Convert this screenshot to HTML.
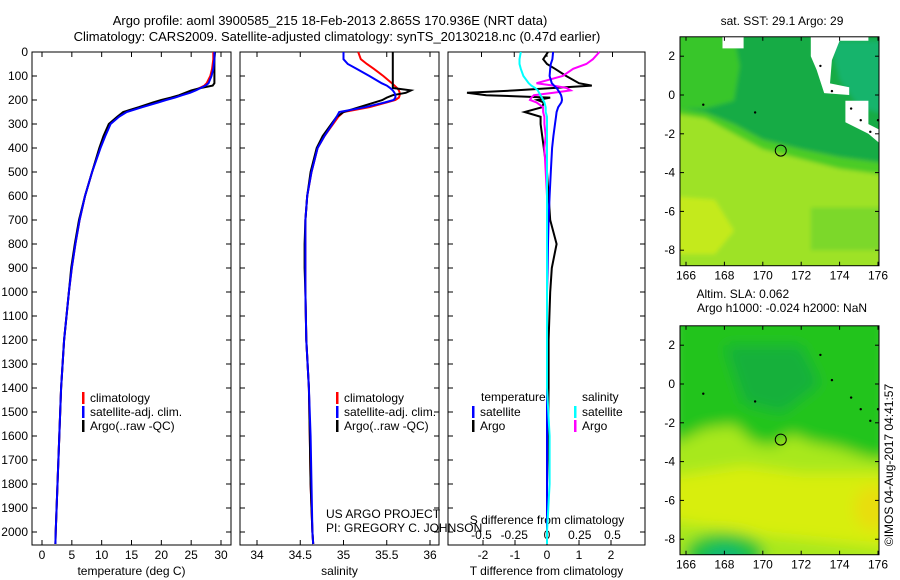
<!DOCTYPE html>
<html><head><meta charset="utf-8"><style>
body{margin:0;background:#fff}
svg{display:block;font-family:"Liberation Sans",sans-serif}
text{font-size:12px;fill:#000}
</style></head><body>
<svg id="fig" width="900" height="580" viewBox="0 0 900 580" xmlns="http://www.w3.org/2000/svg">
<defs>
<filter id="blur" x="0" y="0" width="1" height="1"><feGaussianBlur stdDeviation="7"/></filter>
<filter id="blur1" x="0" y="0" width="1" height="1"><feGaussianBlur stdDeviation="2"/></filter>
<clipPath id="c1"><rect x="680" y="37" width="199" height="229"/></clipPath>
<clipPath id="c2"><rect x="680" y="326" width="199" height="229"/></clipPath>
</defs>
<text x="330" y="25" text-anchor="middle" style="font-size:13px">Argo profile: aoml 3900585_215 18-Feb-2013 2.865S 170.936E (NRT data)</text>
<text x="337" y="41" text-anchor="middle" style="font-size:13px">Climatology: CARS2009. Satellite-adjusted climatology: synTS_20130218.nc (0.47d earlier)</text>
<g id="plots"></g>
<g id="maps"></g>
<text transform="translate(893,465) rotate(-90)" text-anchor="middle">©IMOS 04-Aug-2017 04:41:57</text>
</svg>
<script>
const NS="http://www.w3.org/2000/svg";
// depth levels (m)
const depths=[0,30,50,70,100,130,140,150,160,170,180,190,200,210,230,250,270,300,350,400,500,600,700,800,900,1000,1200,1400,1600,1800,2000,2050];
const tempClim=[28.7,28.7,28.6,28.5,28.2,27.6,27.2,26.4,25.6,24.5,23.2,22,20.5,19.2,16.5,14,12.8,11.4,10.5,9.7,8.4,7.2,6.3,5.6,5.0,4.5,3.7,3.2,2.9,2.6,2.3,2.25];
const tempSat=[28.9,28.9,28.8,28.7,28.4,27.9,27.4,26.6,25.8,24.8,23.5,22.3,20.8,19.5,16.8,14.2,12.9,11.5,10.6,9.8,8.4,7.2,6.3,5.6,5.0,4.5,3.7,3.2,2.9,2.6,2.3,2.25];
const tempArgo=[29.0,28.9,28.9,28.9,28.9,28.9,28.6,26.6,25,24,23,21.6,20,18.6,16.2,13.6,12.6,11.2,10.3,9.6,8.4,7.2,6.2,5.5,4.9,4.5,3.7,3.2,2.9,2.6,2.3,2.25];
const salClim=[35.17,35.2,35.27,35.35,35.46,35.56,35.59,35.62,35.64,35.65,35.65,35.64,35.6,35.5,35.3,35.0,34.94,34.88,34.78,34.7,34.63,34.58,34.56,34.56,34.56,34.56,34.57,34.6,34.61,34.62,34.64,34.65];
const salSat=[35.0,35.0,35.05,35.15,35.3,35.44,35.5,35.54,35.57,35.59,35.6,35.6,35.58,35.48,35.25,34.95,34.92,34.87,34.78,34.7,34.63,34.58,34.56,34.56,34.56,34.56,34.57,34.6,34.62,34.63,34.64,34.65];
const salArgo=[35.57,35.57,35.57,35.57,35.57,35.57,35.57,35.57,35.78,35.72,35.57,35.5,35.45,35.36,35.18,35.0,34.92,34.86,34.76,34.69,34.62,34.58,34.56,34.55,34.55,34.56,34.57,34.6,34.61,34.62,34.64,34.65];
const dTSat=[0.19,0.17,0.12,0.1,0.08,0.15,0.22,0.3,0.35,0.4,0.44,0.46,0.47,0.45,0.35,0.3,0.28,0.25,0.2,0.16,0.12,0.08,0.05,0.03,0.02,0.0,0.0,0.0,0.0,0.0,0.0,0.0];
const dTArgo=[0.03,-0.12,0.0,0.25,0.6,1.0,1.4,0.2,-1.0,-2.5,-1.9,0.1,-0.3,-0.1,-0.15,-0.7,-0.2,-0.2,-0.15,-0.1,0.0,0.05,0.1,0.3,0.15,0.1,0.05,0.05,0.03,0.0,0.0,0.0];
const dSSat=[-0.2,-0.21,-0.21,-0.2,-0.18,-0.14,-0.12,-0.09,-0.07,-0.06,-0.05,-0.04,-0.03,-0.02,-0.01,-0.01,0.0,0.0,0.0,0.0,0.0,0.0,0.0,0.0,0.0,0.0,0.0,0.0,0.02,0.02,0.0,0.0];
const dSArgo=[0.4,0.35,0.3,0.2,0.12,-0.08,0.05,0.15,0.18,0.05,-0.1,-0.12,-0.13,-0.08,-0.03,-0.03,-0.02,-0.02,-0.01,-0.02,-0.01,0.0,0.0,0.0,0.0,0.0,0.0,0.0,0.0,0.0,0.0,0.0];
const depthTicks=[0,100,200,300,400,500,600,700,800,900,1000,1100,1200,1300,1400,1500,1600,1700,1800,1900,2000];
const tempTicks=[0,5,10,15,20,25,30];
const salTicks=[34,34.5,35,35.5,36];
const salTickLabels=["34","34.5","35","35.5","36"];
const dTTicks=[-2,-1,0,1,2];
const dSTicks=[-0.5,-0.25,0,0.25,0.5];
const dSTickLabels=["-0.5","-0.25","0","0.25","0.5"];
const lonTicks=[166,168,170,172,174,176];
const latTicks=[2,0,-2,-4,-6,-8];

const yD=d=>52+d*0.24;
const xT=v=>42+v*5.967;
const xS=v=>257+(v-34)*86.5;
const xDT=v=>547+v*32;
const xDS=v=>547+v*131;

function el(tag,attrs,parent){const e=document.createElementNS(NS,tag);for(const k in attrs)e.setAttribute(k,attrs[k]);parent.appendChild(e);return e;}
const plots=document.getElementById('plots');

function panel(name,x0,x1,xlabel){
  const g=el('g',{},plots);
  
  
  const r=el('rect',{x:x0,y:52,width:x1-x0,height:493,fill:'none',stroke:'#000','stroke-width':1},g);
  
  
  depthTicks.forEach(d=>{
    el('line',{x1:x0,x2:x0+5,y1:yD(d),y2:yD(d),stroke:'#000'},g);
    el('line',{x1:x1,x2:x1-5,y1:yD(d),y2:yD(d),stroke:'#000'},g);
  });
  const t=el('text',{x:(x0+x1)/2,y:575,'text-anchor':'middle'},g);
  t.textContent=xlabel;
  
  
  return g;
}
function xticks(g,ticks,labels,fx,ly,top,bottom){
  ticks.forEach((v,i)=>{
    const x=fx(v);
    if(bottom) el('line',{x1:x,x2:x,y1:545,y2:540,stroke:'#000'},g);
    if(top) el('line',{x1:x,x2:x,y1:52,y2:57,stroke:'#000'},g);
    const t=el('text',{x:x,y:ly,'text-anchor':'middle'},g);
    t.textContent=labels[i];
    
    
  });
}
function line(g,xs,fx,color,name,w){
  const pts=depths.map((d,i)=>fx(xs[i]).toFixed(1)+','+yD(d).toFixed(1)).join(' ');
  const p=el('polyline',{points:pts,fill:'none',stroke:color,'stroke-width':w||2},g);
  
  
}
function legend(g,x,y,color,label){
  el('rect',{x:x,y:y-10,width:2.5,height:12,fill:color},g);
  const t=el('text',{x:x+8,y:y},g);
  t.textContent=label;
  
  
}

depthTicks.forEach(d=>{
  const t=el('text',{x:28,y:yD(d)+4,'text-anchor':'end'},plots);
  t.textContent=d;
  
  
});

const g1=panel('temperature-panel',32,231,'temperature (deg C)');
xticks(g1,tempTicks,tempTicks.map(String),xT,559,true,true);
line(g1,tempClim,xT,'#f00','temp-climatology-line');
line(g1,tempArgo,xT,'#000','temp-argo-line');
line(g1,tempSat,xT,'#00f','temp-satellite-line');
legend(g1,82,402,'#f00','climatology');
legend(g1,82,416,'#00f','satellite-adj. clim.');
legend(g1,82,430,'#000','Argo(..raw -QC)');

const g2=panel('salinity-panel',240,439,'salinity');
xticks(g2,salTicks,salTickLabels,xS,559,true,true);
line(g2,salClim,xS,'#f00','sal-climatology-line');
line(g2,salArgo,xS,'#000','sal-argo-line');
line(g2,salSat,xS,'#00f','sal-satellite-line');
legend(g2,336,402,'#f00','climatology');
legend(g2,336,416,'#00f','satellite-adj. clim.');
legend(g2,336,430,'#000','Argo(..raw -QC)');
const c1=el('text',{x:326,y:518},g2);c1.textContent='US ARGO PROJECT';


const c2=el('text',{x:326,y:532},g2);c2.textContent='PI: GREGORY C. JOHNSON';



const g3=panel('difference-panel',448,645,'T difference from climatology');
xticks(g3,dTTicks,dTTicks.map(String),xDT,559,false,true);
xticks(g3,dSTicks,dSTickLabels,xDS,539,true,false);
const st=el('text',{x:547,y:524,'text-anchor':'middle'},g3);st.textContent='S difference from climatology';


line(g3,dTArgo,xDT,'#000','t-diff-argo-line');
line(g3,dSArgo,xDS,'#f0f','s-diff-argo-line');
line(g3,dTSat,xDT,'#00f','t-diff-satellite-line');
line(g3,dSSat,xDS,'#0ff','s-diff-satellite-line');
const lt=el('text',{x:481,y:401},g3);lt.textContent='temperature';


const ls=el('text',{x:582,y:401},g3);ls.textContent='salinity';


legend(g3,472,416,'#00f','satellite');
legend(g3,472,430,'#000','Argo');
legend(g3,574,416,'#0ff','satellite');
legend(g3,574,430,'#f0f','Argo');

// maps
const maps=document.getElementById('maps');
const mx=lon=>686+(lon-166)*19.2;
function mapPanel(name,lat0y,clip,blurred,title1,title2){
  const g=el('g',{},maps);
  
  
  const my=lat=>lat0y-lat*19.4;
  const P=pts=>pts.map(p=>mx(p[0]).toFixed(1)+','+my(p[1]).toFixed(1)).join(' ');
  const inner=el('g',{'clip-path':'url(#'+clip+')'},g);
  const fg=el('g',blurred?{filter:'url(#blur)'}:{filter:'url(#blur1)'},inner);
  if(!blurred){
    el('rect',{x:670,y:my(4),width:220,height:260,fill:'#17ab45'},fg);
    el('polygon',{points:P([[165,4],[168.3,4],[168.8,1.5],[168.5,-0.3],[167,-0.7],[165,-0.7]]),fill:'#38c62a'},fg);
    el('polygon',{points:P([[173.5,2.8],[177,2.8],[177,-1.2],[175,-0.6],[174,0.8]]),fill:'#12b46c'},fg);
    el('polygon',{points:P([[165,-0.6],[167,-0.9],[168.5,-1.5],[170,-2.3],[172,-2.8],[174,-3.2],[177,-3.6],[177,-9],[165,-9]]),fill:'#4ccc26'},fg);
    el('polygon',{points:P([[165,-0.9],[167,-1.2],[168.5,-2],[170,-2.8],[172,-3.3],[174,-3.8],[177,-4.2],[177,-9],[165,-9]]),fill:'#9ee228'},fg);
    el('polygon',{points:P([[165,-5.2],[167.5,-5.4],[168.5,-7],[167.5,-8.2],[165,-8.2]]),fill:'#c4ea1c'},fg);
    el('polygon',{points:P([[172.5,-5.8],[176.5,-5.8],[176.5,-8],[172.5,-8]]),fill:'#7cd82a'},fg);
  } else {
    el('rect',{x:670,y:my(4),width:220,height:260,fill:'#22c41e'},fg);
    el('polygon',{points:P([[168,2],[172,2],[173,0],[171,-1.5],[169,-1]]),fill:'#12b03a'},fg);
    el('polygon',{points:P([[165,-3.3],[167,-2.3],[168.5,-2.1],[169.5,-3],[170.5,-3.2],[171.5,-2.6],[172.5,-3],[174,-3.3],[175.5,-3.8],[177,-4],[177,-9.5],[165,-9.5]]),fill:'#a8e81a'},fg);
    el('polygon',{points:P([[165,-4.8],[169,-4.2],[172,-4.6],[176.5,-4.6],[177,-8.5],[170,-7.8],[165,-7]]),fill:'#d8ee0c'},fg);
    el('ellipse',{cx:mx(175.7),cy:my(-6.4),rx:18,ry:22,fill:'#e8de08'},fg);
    el('ellipse',{cx:mx(168),cy:my(-8.8),rx:40,ry:22,fill:'#22c43a'},fg);
    el('ellipse',{cx:mx(168),cy:my(-9),rx:20,ry:12,fill:'#10b878'},fg);
  }
  if(!blurred){
    el('polygon',{points:P([[172.5,3.1],[175.5,3.1],[175.5,2.8],[174,2.8],[173.6,1.8],[173.5,0.6],[174.5,0.4],[174.5,0],[173.2,0.1],[172.8,1.3],[172.5,2]]),fill:'#fff'},inner);
    el('polygon',{points:P([[167.9,3.1],[169,3.1],[169,2.4],[167.9,2.4]]),fill:'#fff'},inner);
    el('polygon',{points:P([[174.3,-0.3],[175.5,-0.3],[175.5,-1.5],[176.1,-1.8],[176.1,-2.5],[175.5,-2],[174.3,-1.4]]),fill:'#fff'},inner);
  }
  [[173,1.5],[173.6,0.2],[174.6,-0.7],[175.1,-1.3],[175.6,-1.9],[166.9,-0.5],[169.6,-0.9],[176,-1.3]].forEach(p=>{
    el('circle',{cx:mx(p[0]),cy:my(p[1]),r:1.2,fill:'#000'},inner);
  });
  const c=el('circle',{cx:mx(170.936),cy:my(-2.865),r:5.5,fill:'none',stroke:'#000','stroke-width':1},g);
  
  
  const top=my(3.0),bot=my(-8.8);
  el('rect',{x:680,y:top,width:199,height:bot-top,fill:'none',stroke:'#000'},g);
  lonTicks.forEach(l=>{
    el('line',{x1:mx(l),x2:mx(l),y1:bot,y2:bot-4,stroke:'#000'},g);
    el('line',{x1:mx(l),x2:mx(l),y1:top,y2:top+4,stroke:'#000'},g);
    const t=el('text',{x:mx(l),y:bot+14,'text-anchor':'middle'},g);t.textContent=l;
    
    
  });
  latTicks.forEach(l=>{
    el('line',{x1:680,x2:684,y1:my(l),y2:my(l),stroke:'#000'},g);
    el('line',{x1:879,x2:875,y1:my(l),y2:my(l),stroke:'#000'},g);
    const t=el('text',{x:675,y:my(l)+4,'text-anchor':'end'},g);t.textContent=l;
    
    
  });
  const t1=el('text',{x:title2?(mx(170)-20):mx(171),y:title2?top-28:top-12,'text-anchor':'middle'},g);t1.textContent=title1;
  
  
  if(title2){const t2=el('text',{x:mx(171),y:top-14,'text-anchor':'middle'},g);t2.textContent=title2;
  
  }
}
mapPanel('sst-map',95,'c1',false,'sat. SST: 29.1 Argo: 29',null);
mapPanel('sla-map',384,'c2',true,'Altim. SLA: 0.062','Argo h1000: -0.024 h2000: NaN');
</script>
</body></html>
